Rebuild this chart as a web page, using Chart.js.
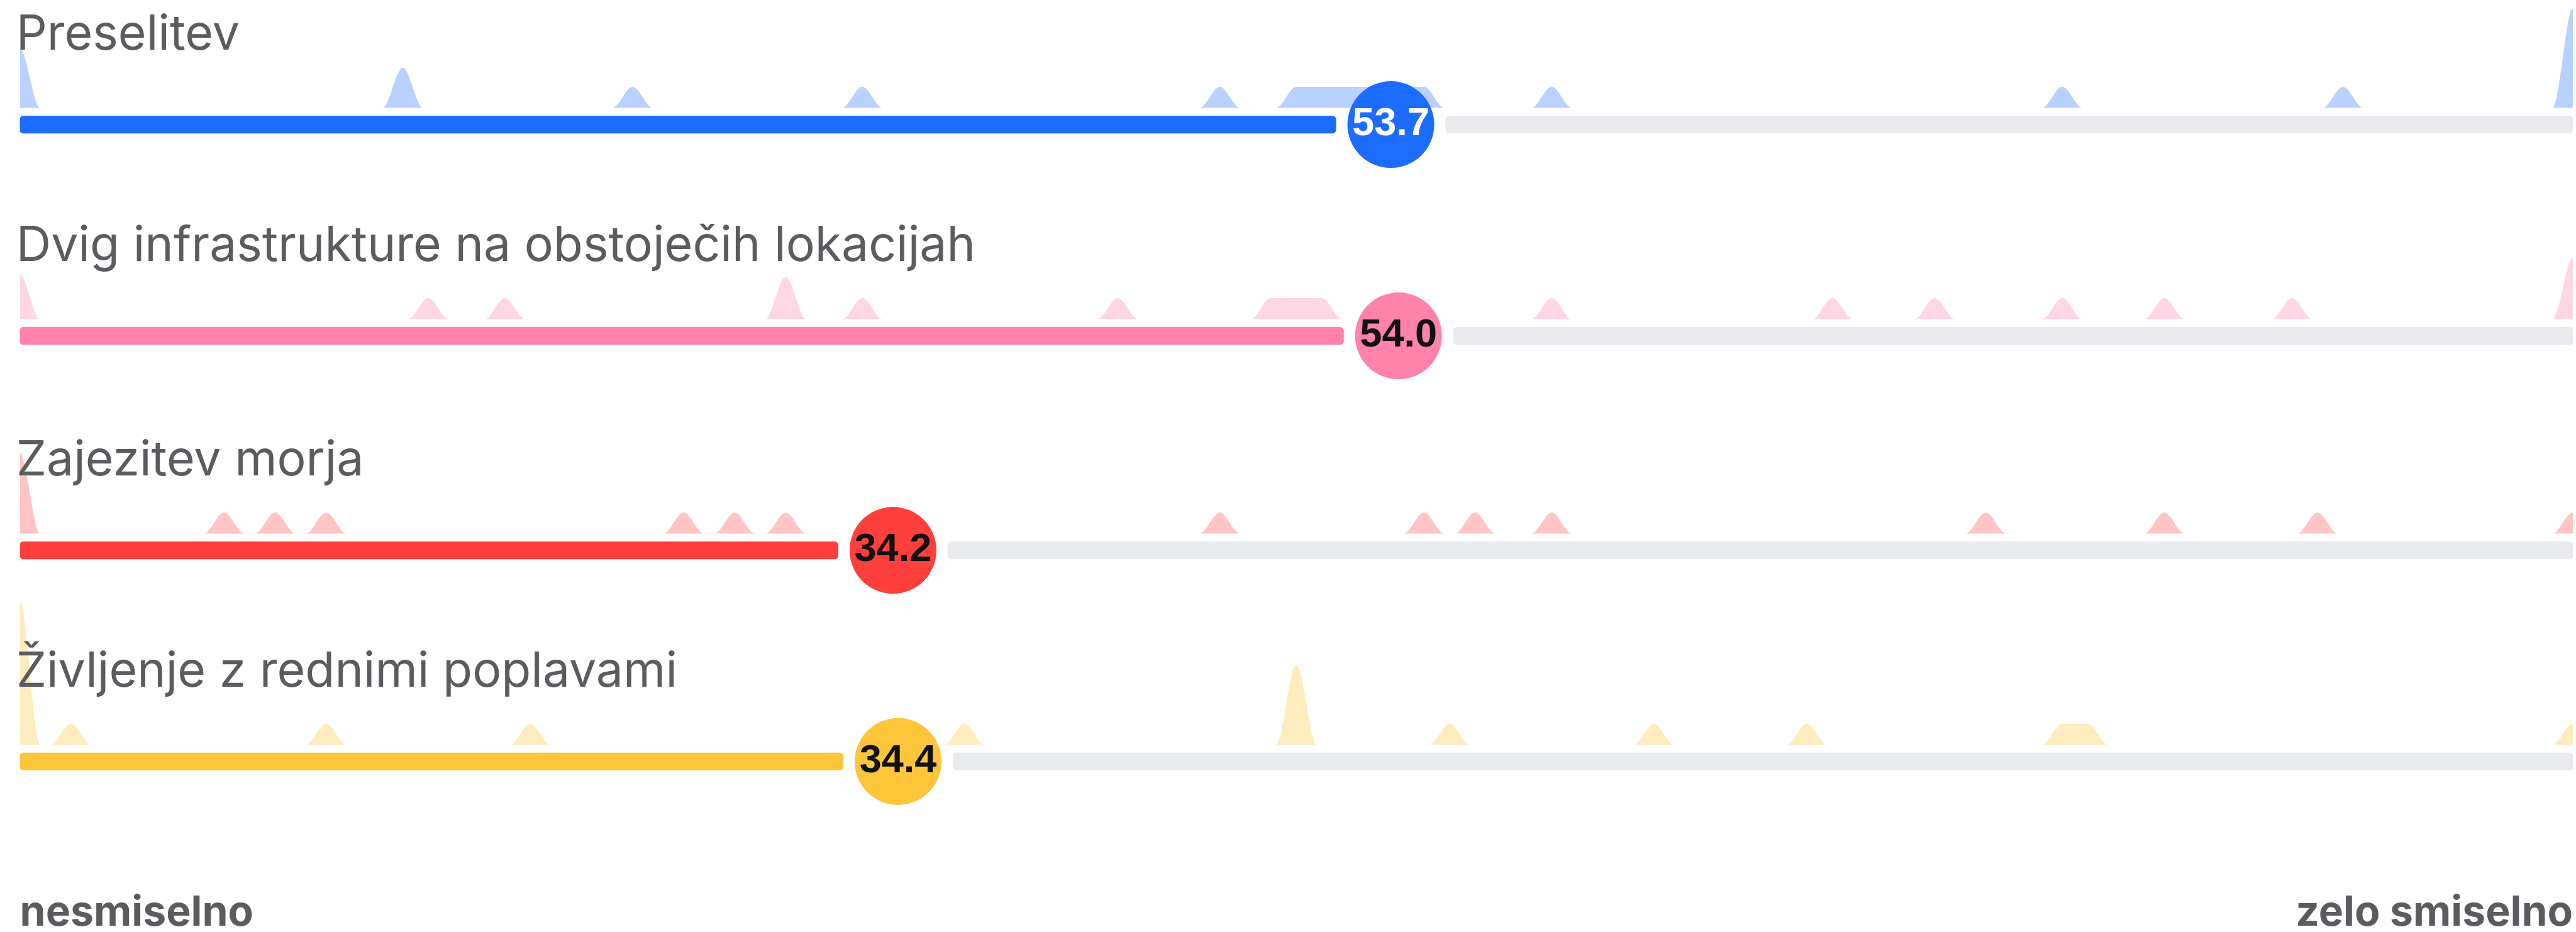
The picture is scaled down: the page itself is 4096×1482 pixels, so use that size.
<!DOCTYPE html>
<html>
<head>
<meta charset="utf-8">
<script src="https://cdn.jsdelivr.net/npm/chart.js@4.4.1/dist/chart.umd.min.js"></script>
<style>
  html, body { margin: 0; padding: 0; background: #fff; }
  body { width: 4096px; height: 1482px; overflow: hidden; position: relative; }
  canvas { position: absolute; left: 0; }
</style>
</head>
<body>
<script>
const S = 0.986; // reference -> window scale

// Chart data
const rowTitles = ['Preselitev', 'Dvig infrastrukture na obstoječih lokacijah', 'Zajezitev morja', 'Življenje z rednimi poplavami'];
const rowMeans = [53.7, 54.0, 34.2, 34.4];
const axisLabels = ['nesmiselno', 'zelo smiselno'];

// density bumps: [answer (0-100), relative density]
const preselitevDensity = [[0, 2.8], [15, 1.9], [24, 1], [33, 1], [47, 1], [50, 1], [51, 1], [52, 1], [53, 1], [54, 1], [55, 1], [60, 1], [80, 1], [91, 1], [100, 4.7]];
const dvigDensity = [[0, 2.1], [16, 1], [19, 1], [30, 2], [33, 1], [43, 1], [49, 1], [50, 1], [51, 1], [60, 1], [71, 1], [75, 1], [80, 1], [84, 1], [89, 1], [100, 2.9]];
const zajezitevDensity = [[0, 3.8], [8, 1], [10, 1], [12, 1], [26, 1], [28, 1], [30, 1], [47, 1], [55, 1], [57, 1], [60, 1], [77, 1], [84, 1], [90, 1], [100, 1]];
const zivljenjeDensity = [[0, 6.8], [2, 1], [12, 1], [20, 1], [37, 1], [50, 3.8], [56, 1], [64, 1], [70, 1], [80, 1], [81, 1], [100, 1]];
const densities = [preselitevDensity, dvigDensity, zajezitevDensity, zivljenjeDensity];

// colours
const barColors = ['#1b6cff', '#ff82aa', '#ff3f3c', '#fdc53a'];
const densityColors = ['rgba(27,108,255,0.31)', 'rgba(255,130,170,0.33)', 'rgba(255,63,60,0.31)', 'rgba(253,197,58,0.33)'];
const labelColors = ['#ffffff', '#111111', '#111111', '#111111'];
const TRACK = '#e8eaed';
const TEXT = '#5b5c60';

// layout, in reference pixels
const ROW_CENTER = [201, 542, 887, 1228];
const ABOVE = 290, BELOW = 80, REF_H = 1503, AXIS_H = 173;
const BASE_OFFSET = 27, UNIT_PX = 34;
const HALF = 0.8;  // half width of one bump, answer units
const GAP = 2.15;  // space between track and marker, answer units
const BAR_Y = -BASE_OFFSET / UNIT_PX;

// bump outline for the line dataset; neighbouring answers join into a plateau
const densityPoints = (peaks) => {
  const pts = [];
  peaks.forEach(([v, d], i) => {
    const prev = peaks[i - 1], next = peaks[i + 1];
    if (!prev || v - prev[0] > 2 * HALF) pts.push({x: v - HALF, y: 0});
    pts.push({x: v, y: d});
    if (!next || next[0] - v > 2 * HALF) pts.push({x: v + HALF, y: 0});
  });
  return pts;
};

// row title + value inside the marker
const rowText = {
  id: 'rowText',
  afterDatasetsDraw(chart, args, opts) {
    const ctx = chart.ctx;
    const pt = chart.getDatasetMeta(2).data[0];
    ctx.save();
    ctx.textBaseline = 'alphabetic';
    ctx.font = `400 ${78 * S}px Inter`;
    ctx.fillStyle = TEXT;
    ctx.textAlign = 'left';
    ctx.fillText(opts.title, 26 * S, pt.y - 121 * S);
    ctx.font = `bold ${64 * S}px "Liberation Sans", Arial`;
    ctx.fillStyle = opts.labelColor;
    ctx.textAlign = 'center';
    ctx.fillText(opts.mean.toFixed(1), pt.x, pt.y + 17 * S);
    ctx.restore();
  }
};

rowTitles.forEach((title, i) => {
  const last = i === rowTitles.length - 1;
  const top = ROW_CENTER[i] - ABOVE;
  const bottom = last ? REF_H : ROW_CENTER[i] + BELOW;
  const areaH = bottom - top - (last ? AXIS_H : 0);
  const base = ABOVE - BASE_OFFSET;

  const canvas = document.createElement('canvas');
  canvas.width = 4096;
  canvas.height = Math.round((bottom - top) * S);
  canvas.style.top = (top * S) + 'px';
  document.body.appendChild(canvas);

  const mean = rowMeans[i];
  new Chart(canvas, {
    type: 'line',
    data: {
      datasets: [{
        type: 'line',
        data: densityPoints(densities[i]),
        backgroundColor: densityColors[i],
        fill: 'origin',
        borderWidth: 0,
        pointRadius: 0,
        cubicInterpolationMode: 'monotone',
        order: 3
      }, {
        type: 'bar',
        indexAxis: 'y',
        data: [{x: [0, mean - GAP], y: BAR_Y}, {x: [mean + GAP, 100], y: BAR_Y}],
        backgroundColor: [barColors[i], TRACK],
        barThickness: 28 * S,
        borderRadius: 6 * S,
        borderSkipped: false,
        order: 2
      }, {
        type: 'scatter',
        data: [{x: mean, y: BAR_Y}],
        pointRadius: 70 * S,
        pointBackgroundColor: barColors[i],
        pointBorderWidth: 0,
        clip: false,
        order: 1
      }]
    },
    options: {
      responsive: false,
      animation: false,
      events: [],
      layout: { autoPadding: false, padding: { left: 32 * S, right: 5 * S, top: 0, bottom: 0 } },
      scales: {
        x: {
          type: 'linear', min: 0, max: 100, offset: false,
          display: last,
          grid: { display: false, drawTicks: true, tickLength: 103 * S },
          border: { display: false },
          afterBuildTicks: (scale) => { scale.ticks = [{value: 0}, {value: 100}]; },
          afterFit: (scale) => { scale.height = last ? AXIS_H * S : 0; },
          ticks: {
            align: 'inner',
            autoSkip: false,
            maxRotation: 0,
            padding: 0,
            color: TEXT,
            font: { family: 'Inter', size: 67 * S, weight: '700' },
            callback: (v, idx) => axisLabels[idx]
          }
        },
        y: { type: 'linear', offset: false, min: -(areaH - base) / UNIT_PX, max: base / UNIT_PX, display: false }
      },
      plugins: {
        legend: { display: false },
        tooltip: { enabled: false },
        rowText: { title: title, mean: mean, labelColor: labelColors[i] }
      }
    },
    plugins: [rowText]
  });
});
</script>
</body>
</html>
